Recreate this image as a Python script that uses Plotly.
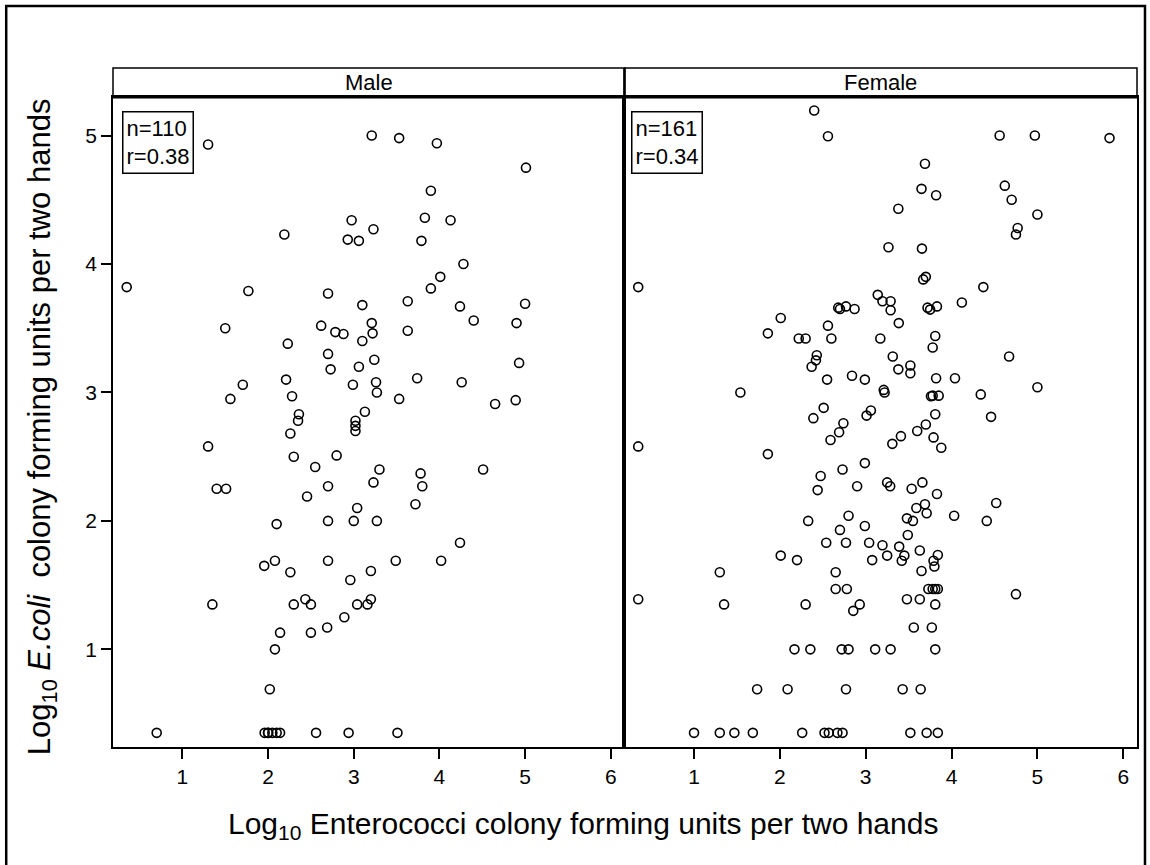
import plotly.graph_objects as go

# ---------------- data ----------------
male_x = [1.30, 3.21, 3.53, 3.97, 5.01, 3.90, 3.83, 4.13, 2.975, 3.23,
          2.19, 2.93, 3.06, 3.79, 4.28, 4.01, 0.35, 3.90, 1.77, 2.70,
          3.63, 3.10, 4.24, 5.00, 4.40, 4.90, 3.21, 2.62, 1.50, 3.63,
          2.785, 2.88, 3.22, 3.10, 2.23, 2.70, 3.24, 4.93, 3.06, 2.73,
          3.74, 2.21, 4.26, 3.26, 2.99, 1.705, 3.27, 2.28, 1.56, 3.53,
          4.89, 4.65, 3.13, 2.36, 2.35, 3.02, 3.02, 3.02, 2.26, 1.30,
          2.30, 2.80, 2.55, 3.30, 4.51, 3.78, 3.23, 3.80, 2.70, 1.40,
          1.51, 2.455, 3.72, 3.04, 3.27, 2.70, 3.00, 2.10, 4.24, 3.49,
          4.02, 2.08, 2.70, 1.955, 3.20, 2.26, 2.96, 3.20, 3.16, 3.04,
          1.35, 2.30, 2.435, 2.50, 2.89, 2.69, 2.14, 2.50, 2.08, 2.02,
          0.70, 1.96, 2.00, 2.00, 2.05, 2.10, 2.14, 2.56, 2.94, 3.51]
male_y = [4.93, 5.00, 4.98, 4.94, 4.75, 4.57, 4.36, 4.34, 4.34, 4.27,
          4.23, 4.19, 4.18, 4.18, 4.00, 3.90, 3.82, 3.81, 3.79, 3.77,
          3.71, 3.68, 3.67, 3.69, 3.56, 3.54, 3.54, 3.52, 3.50, 3.48,
          3.47, 3.455, 3.46, 3.40, 3.38, 3.30, 3.255, 3.23, 3.20, 3.18,
          3.11, 3.10, 3.08, 3.08, 3.06, 3.06, 3.00, 2.97, 2.95, 2.95,
          2.94, 2.91, 2.85, 2.83, 2.78, 2.78, 2.74, 2.70, 2.68, 2.58,
          2.50, 2.51, 2.42, 2.40, 2.40, 2.37, 2.30, 2.27, 2.27, 2.25,
          2.25, 2.19, 2.13, 2.10, 2.00, 2.00, 2.00, 1.975, 1.83, 1.69,
          1.69, 1.69, 1.69, 1.65, 1.61, 1.60, 1.54, 1.39, 1.35, 1.35,
          1.35, 1.35, 1.39, 1.35, 1.25, 1.17, 1.13, 1.13, 1.00, 0.69,
          0.35, 0.35, 0.35, 0.35, 0.35, 0.35, 0.35, 0.35, 0.35, 0.35]

female_x = [2.40, 2.56, 4.56, 4.97, 5.84, 3.69, 3.65, 3.82, 4.62, 4.70,
            5.00, 4.77, 4.75, 3.38, 3.265, 3.655, 3.70, 3.67, 4.37, 0.35,
            3.14, 3.195, 3.29, 3.29, 3.72, 3.75, 3.83, 4.12, 2.68, 2.70,
            2.77, 2.87, 2.01, 3.385, 2.56, 1.86, 2.22, 2.30, 2.60, 3.17,
            3.81, 3.78, 2.43, 2.42, 2.37, 3.315, 4.67, 3.52, 3.52, 3.38,
            2.55, 2.84, 2.99, 3.82, 4.04, 3.21, 3.22, 3.76, 3.78, 3.85,
            4.34, 5.00, 1.54, 2.51, 3.06, 3.01, 3.81, 4.46, 2.39, 2.74,
            3.70, 3.60, 2.69, 3.79, 3.41, 3.31, 3.88, 2.59, 0.35, 1.86,
            2.99, 2.73, 2.475, 3.25, 3.285, 3.535, 3.66, 3.83, 2.44, 2.90,
            4.52, 3.69, 3.59, 3.71, 4.03, 4.41, 3.48, 3.55, 2.33, 2.80,
            2.70, 2.99, 3.49, 2.54, 2.77, 3.04, 3.195, 3.39, 3.63, 2.01,
            2.20, 3.075, 3.25, 3.45, 3.42, 3.84, 3.79, 3.80, 3.65, 1.30,
            2.65, 2.65, 2.78, 3.73, 3.78, 3.81, 3.84, 4.75, 0.35, 1.35,
            2.30, 2.93, 2.855, 3.48, 3.63, 3.81, 3.56, 3.77, 2.17, 2.355,
            2.72, 2.80, 3.11, 3.29, 3.81, 1.735, 2.09, 2.77, 3.43, 3.64,
            1.00, 1.30, 1.47, 1.685, 2.26, 2.52, 2.57, 2.67, 2.73, 3.52,
            3.71, 3.84]
female_y = [5.195, 4.995, 5.00, 5.00, 4.98, 4.78, 4.585, 4.535, 4.61, 4.50,
            4.385, 4.28, 4.23, 4.43, 4.13, 4.12, 3.90, 3.88, 3.82, 3.82,
            3.76, 3.71, 3.71, 3.64, 3.66, 3.645, 3.67, 3.70, 3.66, 3.65,
            3.67, 3.65, 3.58, 3.54, 3.52, 3.46, 3.42, 3.42, 3.42, 3.42,
            3.44, 3.35, 3.29, 3.25, 3.20, 3.28, 3.28, 3.21, 3.15, 3.18,
            3.10, 3.13, 3.10, 3.11, 3.11, 3.02, 3.00, 2.97, 2.975, 2.975,
            2.985, 3.04, 3.00, 2.88, 2.86, 2.82, 2.83, 2.81, 2.80, 2.76,
            2.75, 2.70, 2.69, 2.65, 2.66, 2.60, 2.57, 2.63, 2.58, 2.52,
            2.45, 2.40, 2.35, 2.30, 2.27, 2.25, 2.30, 2.21, 2.24, 2.27,
            2.14, 2.13, 2.10, 2.06, 2.04, 2.00, 2.02, 2.00, 2.00, 2.04,
            1.93, 1.96, 1.89, 1.83, 1.83, 1.83, 1.81, 1.80, 1.77, 1.73,
            1.695, 1.695, 1.73, 1.73, 1.69, 1.735, 1.69, 1.645, 1.61, 1.60,
            1.60, 1.47, 1.47, 1.47, 1.47, 1.47, 1.47, 1.43, 1.39, 1.35,
            1.35, 1.35, 1.30, 1.39, 1.39, 1.35, 1.17, 1.17, 1.00, 1.00,
            1.00, 1.00, 1.00, 1.00, 1.00, 0.69, 0.69, 0.69, 0.69, 0.69,
            0.35, 0.35, 0.35, 0.35, 0.35, 0.35, 0.35, 0.35, 0.35, 0.35,
            0.35, 0.35]

panels = ["Male", "Female"]
stats_text = ["n=110<br>r=0.38", "n=161<br>r=0.34"]
x_ticks = [1, 2, 3, 4, 5, 6]
y_ticks = [1, 2, 3, 4, 5]
x_title = "Log<sub>10</sub> Enterococci colony forming units per two hands"
y_title = "Log<sub>10</sub> <i>E.coli</i>&nbsp;&nbsp;colony forming units per two hands"

# ---------------- figure ----------------
FONT = "Liberation Sans, Arial, sans-serif"
W, H = 1150, 865
ML, MR, MT, MB = 113, 11, 68, 118
plot_w = W - ML - MR
plot_h = H - MT - MB
dom_top = (H - MB - 97) / plot_h  # bottom of the strip header
split = 0.4995

marker = dict(symbol="circle-open", size=9, color="black", line=dict(width=1.6, color="black"))

fig = go.Figure()
fig.add_trace(go.Scatter(x=male_x, y=male_y, mode="markers", marker=marker,
                         xaxis="x", yaxis="y", showlegend=False, hoverinfo="x+y"))
fig.add_trace(go.Scatter(x=female_x, y=female_y, mode="markers", marker=marker,
                         xaxis="x2", yaxis="y2", showlegend=False, hoverinfo="x+y"))

xcommon = dict(range=[0.19, 6.16], tickmode="array", tickvals=x_ticks,
               ticks="outside", ticklen=10, tickwidth=1.5, tickcolor="black",
               showline=True, mirror=True, linecolor="black", linewidth=1.5,
               showgrid=False, zeroline=False,
               tickfont=dict(family=FONT, size=21, color="black"))
ycommon = dict(range=[0.24, 5.30], showline=True, mirror=True, linecolor="black",
               linewidth=1.5, showgrid=False, zeroline=False, domain=[0, dom_top])

fig.update_layout(
    width=W, height=H,
    margin=dict(l=ML, r=MR, t=MT, b=MB, pad=0),
    paper_bgcolor="white", plot_bgcolor="white",
    font=dict(family=FONT, color="black"),
    xaxis=dict(domain=[0, split], anchor="y", **xcommon),
    xaxis2=dict(domain=[split, 1], anchor="y2", **xcommon),
    yaxis=dict(anchor="x", tickmode="array", tickvals=y_ticks, ticks="outside",
               ticklen=10, tickwidth=1.5, tickcolor="black",
               tickfont=dict(family=FONT, size=21, color="black"), **ycommon),
    yaxis2=dict(anchor="x2", matches="y", showticklabels=False, ticks="", **ycommon),
)

shapes = []
# strip header boxes
for x0, x1 in [(0, split), (split, 1)]:
    shapes.append(dict(type="rect", xref="paper", yref="paper", x0=x0, x1=x1,
                       y0=dom_top, y1=1, line=dict(color="black", width=1.5)))
# thick line under the strips
shapes.append(dict(type="line", xref="paper", yref="paper", x0=0, x1=1,
                   y0=dom_top, y1=dom_top, line=dict(color="black", width=3)))
# thick divider between panels
shapes.append(dict(type="line", xref="paper", yref="paper", x0=split, x1=split,
                   y0=0, y1=1, line=dict(color="black", width=2.5)))
# outer frame around the whole figure
shapes.append(dict(type="rect", xref="paper", yref="paper",
                   x0=(6 - ML) / plot_w, x1=(1147 - ML) / plot_w,
                   y0=(H - MB - 870) / plot_h, y1=(H - MB - 6) / plot_h,
                   line=dict(color="black", width=2.5)))
fig.update_layout(shapes=shapes)

annotations = []
strip_mid = (1 + dom_top) / 2
for (x0, x1), label in zip([(0, split), (split, 1)], panels):
    annotations.append(dict(text=label, xref="paper", yref="paper", x=(x0 + x1) / 2,
                            y=strip_mid, showarrow=False, xanchor="center", yanchor="middle",
                            font=dict(family=FONT, size=22, color="black")))
for xr, txt, dx in zip(["x domain", "x2 domain"], stats_text, [0.0176, 0.0127]):
    annotations.append(dict(text=txt, xref=xr, yref="y domain", x=dx, y=0.978,
                            xanchor="left", yanchor="top", align="left", showarrow=False,
                            bordercolor="black", borderwidth=1.5, borderpad=3,
                            font=dict(family=FONT, size=22, color="black")))
annotations.append(dict(text=x_title, xref="paper", yref="paper",
                        x=(584 - ML) / plot_w, y=(H - MB - 825) / plot_h,
                        xanchor="center", yanchor="middle", showarrow=False,
                        font=dict(family=FONT, size=30, color="black")))
annotations.append(dict(text=y_title, xref="paper", yref="paper",
                        x=(42 - ML) / plot_w, y=(H - MB - 427) / plot_h, textangle=-90,
                        xanchor="center", yanchor="middle", showarrow=False,
                        font=dict(family=FONT, size=31, color="black")))
fig.update_layout(annotations=annotations)

fig.write_html("out.html")
